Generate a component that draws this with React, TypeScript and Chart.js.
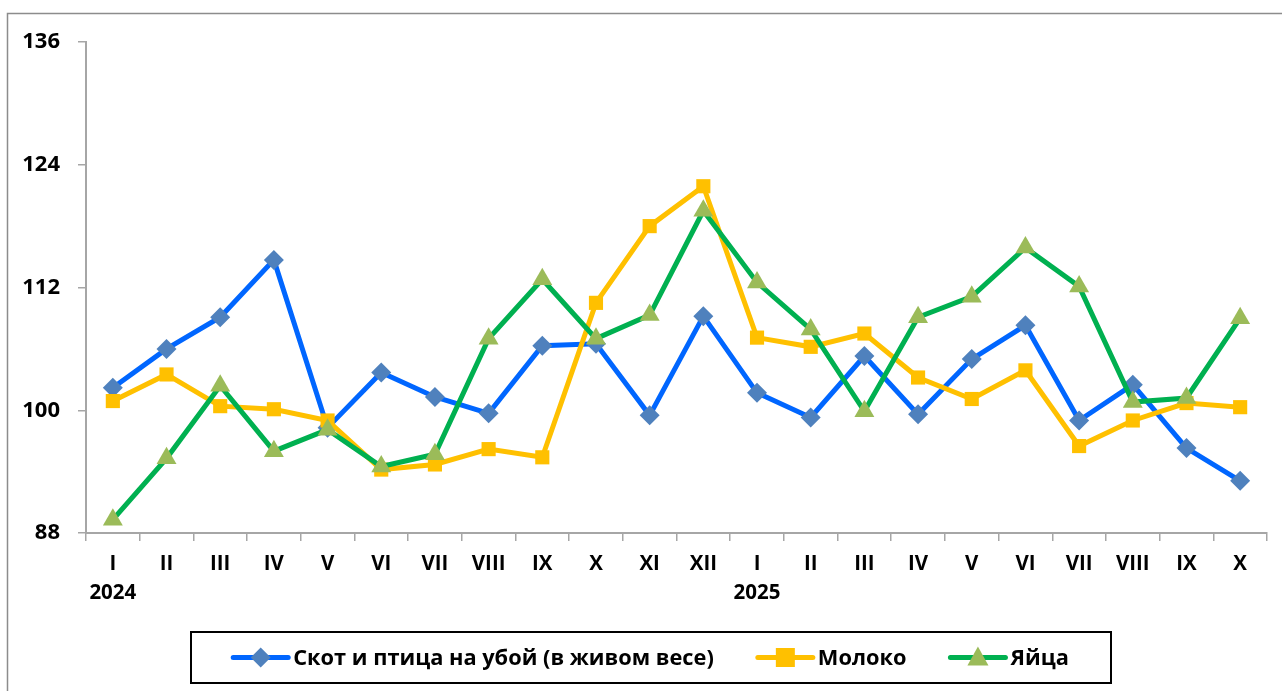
import React, { useEffect, useRef } from "react";
import { Chart, registerables } from "chart.js";

Chart.register(...registerables);

const months = ["I", "II", "III", "IV", "V", "VI", "VII", "VIII", "IX", "X", "XI", "XII", "I", "II", "III", "IV", "V", "VI", "VII", "VIII", "IX", "X"];
const yearLabels: Record<number, string> = { 0: "2024", 12: "2025" };

const livestock = [102.2, 106.0, 109.1, 114.7, 98.3, 103.7, 101.3, 99.7, 106.3, 106.5, 99.5, 109.2, 101.7, 99.3, 105.3, 99.6, 105.0, 108.3, 99.0, 102.5, 96.3, 93.1];
const milk = [100.9, 103.5, 100.4, 100.1, 99.0, 94.2, 94.7, 96.2, 95.4, 110.5, 118.0, 121.9, 107.1, 106.2, 107.5, 103.2, 101.1, 103.9, 96.5, 99.0, 100.7, 100.3];
const eggs = [89.3, 95.3, 102.4, 96.0, 98.1, 94.5, 95.7, 107.0, 112.8, 107.0, 109.3, 119.5, 112.5, 107.9, 99.9, 109.1, 111.1, 115.9, 112.1, 100.8, 101.2, 109.0];

const yTicks = [88, 100, 112, 124, 136];

const seriesNames = ["Скот и птица на убой (в живом весе)", "Молоко", "Яйца"];

const FONT = "'Open Sans', 'Noto Sans', sans-serif";

const lineColors = ["#0066FF", "#FFC000", "#00B050"];
const pointColors = ["#4F81BD", "#FFC000", "#9BBB59"];
const pointStyles = ["rectRot", "rect", "triangle"];
const pointRadii = [10, 10, 11.5];

const decorPlugin = {
  id: "decor",
  afterDraw(chart: any) {
    const ctx = chart.ctx as CanvasRenderingContext2D;
    ctx.save();
    // outer frame
    ctx.strokeStyle = "#8C8C8C";
    ctx.lineWidth = 1.5;
    ctx.strokeRect(7.5, 13.5, chart.width + 20, chart.height + 20);

    // legend box
    const bx = 191, by = 632, bw = 920, bh = 51;
    ctx.fillStyle = "#ffffff";
    ctx.fillRect(bx, by, bw, bh);
    ctx.strokeStyle = "#000000";
    ctx.lineWidth = 2;
    ctx.strokeRect(bx, by, bw, bh);

    ctx.font = `bold 21.8px ${FONT}`;
    ctx.textBaseline = "middle";
    ctx.textAlign = "left";
    const lineLen = 55;
    const gap = 5;
    const spacing = 44;
    const widths = seriesNames.map((n) => lineLen + gap + ctx.measureText(n).width);
    const total = widths.reduce((a, b) => a + b, 0) + spacing * (seriesNames.length - 1);
    let x = bx + (bw - total) / 2;
    const cy = by + bh / 2;
    seriesNames.forEach((name, i) => {
      ctx.strokeStyle = lineColors[i];
      ctx.lineWidth = 5;
      ctx.lineCap = "round";
      ctx.beginPath();
      ctx.moveTo(x, cy);
      ctx.lineTo(x + lineLen, cy);
      ctx.stroke();
      const mx = x + lineLen / 2;
      ctx.fillStyle = pointColors[i];
      if (i === 0) {
        ctx.beginPath();
        ctx.moveTo(mx, cy - 10);
        ctx.lineTo(mx + 10, cy);
        ctx.lineTo(mx, cy + 10);
        ctx.lineTo(mx - 10, cy);
        ctx.closePath();
        ctx.fill();
      } else if (i === 1) {
        ctx.fillRect(mx - 9.5, cy - 9.5, 19, 19);
      } else {
        ctx.beginPath();
        ctx.moveTo(mx, cy - 11);
        ctx.lineTo(mx + 10.5, cy + 8);
        ctx.lineTo(mx - 10.5, cy + 8);
        ctx.closePath();
        ctx.fill();
      }
      ctx.fillStyle = "#000000";
      ctx.fillText(name, x + lineLen + gap, cy + 1);
      x += widths[i] + spacing;
    });
    ctx.restore();
  },
};

export default function App() {
  const canvasRef = useRef<HTMLCanvasElement | null>(null);

  useEffect(() => {
    document.body.style.margin = "0";
    const canvas = canvasRef.current;
    if (!canvas) return;
    const labels = months.map((m, i) => (yearLabels[i] ? [m, yearLabels[i]] : m));
    const mk = (data: number[], i: number, order: number) => ({
      label: seriesNames[i],
      data,
      borderColor: lineColors[i],
      backgroundColor: pointColors[i],
      borderWidth: 5,
      pointStyle: pointStyles[i],
      pointRadius: pointRadii[i],
      pointBackgroundColor: pointColors[i],
      pointBorderColor: pointColors[i],
      pointBorderWidth: 0,
      tension: 0,
      order,
    });
    const chart = new Chart(canvas, {
      type: "line",
      data: {
        labels,
        datasets: [mk(livestock, 0, 3), mk(milk, 1, 2), mk(eggs, 2, 1)],
      },
      plugins: [decorPlugin],
      options: {
        responsive: false,
        animation: false,
        events: [],
        layout: { padding: { top: 42, right: 15, left: 0, bottom: 0 } },
        plugins: {
          legend: { display: false },
          tooltip: { enabled: false },
        },
        scales: {
          x: {
            type: "category",
            offset: true,
            grid: {
              display: true,
              offset: true,
              drawOnChartArea: false,
              drawTicks: true,
              tickLength: 8,
              color: "#A6A6A6",
              lineWidth: 1.5,
            },
            border: { display: true, color: "#A6A6A6", width: 2 },
            ticks: {
              color: "#000000",
              font: { family: FONT, size: 20.5, weight: "bold", lineHeight: 1.45 },
              padding: 8,
              maxRotation: 0,
              autoSkip: false,
            },
            afterFit(scale: any) {
              scale.height = 158;
            },
          },
          y: {
            min: 88,
            max: 136,
            afterBuildTicks(scale: any) {
              scale.ticks = yTicks.map((v) => ({ value: v }));
            },
            grid: {
              display: true,
              drawOnChartArea: false,
              drawTicks: true,
              tickLength: 8,
              color: "#A6A6A6",
              lineWidth: 1.5,
            },
            border: { display: true, color: "#A6A6A6", width: 2 },
            ticks: {
              color: "#000000",
              font: { family: FONT, size: 22, weight: "bold" },
              padding: 18,
            },
            afterFit(scale: any) {
              scale.width = 86;
            },
          },
        },
      },
    });
    return () => chart.destroy();
  }, []);

  return <canvas ref={canvasRef} width={1282} height={691} style={{ display: "block" }} />;
}
